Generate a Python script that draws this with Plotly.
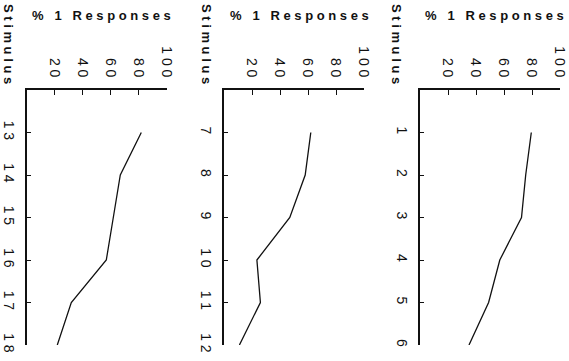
import plotly.graph_objects as go

W, H = 569, 361

# Data
stim_a = [13, 14, 15, 16, 17, 18]
resp_a = [82, 67, 62, 57, 32, 22]
stim_b = [7, 8, 9, 10, 11, 12]
resp_b = [62, 58, 47, 23.5, 26, 11]
stim_c = [1, 2, 3, 4, 5, 6]
resp_c = [79.5, 75.5, 72.5, 57, 49, 35]

pct_ticks = [20, 40, 60, 80, 100]
pct_labels = ["2 0", "4 0", "6 0", "8 0", "1 0 0"]

panels = [
    (stim_a, resp_a, [12, 18], 26.5, 8, 30),
    (stim_b, resp_b, [6, 12], 224, 206, 228),
    (stim_c, resp_c, [0, 6], 420, 396, 423),
]

def px(x):
    return x / W

def py(y):
    return 1 - y / H

FONT = "Liberation Sans, Arial, sans-serif"
INK = "#111111"

fig = go.Figure()
annotations = []
top, bottom = 90, 345
for i, (st, rs, rng, x0, sx, tx) in enumerate(panels):
    n = "" if i == 0 else str(i + 1)
    fig.add_trace(go.Scatter(
        x=rs, y=st, mode="lines",
        line=dict(color=INK, width=1.3),
        xaxis="x" + n, yaxis="y" + n, showlegend=False, hoverinfo="skip",
    ))
    xa = dict(
        domain=[px(x0), px(x0 + 140)], range=[0, 100], side="top",
        anchor="y" + n, showline=True, linecolor=INK, linewidth=1.5,
        ticks="inside", ticklen=5, tickwidth=1.3, tickcolor=INK,
        tickvals=pct_ticks, ticktext=pct_labels, tickangle=90,
        ticklabelstandoff=6, automargin=False,
        tickfont=dict(family=FONT, size=14, color=INK),
        showgrid=False, zeroline=False, fixedrange=True,
    )
    ticks = list(range(rng[0] + 1, rng[1] + 1))
    ya = dict(
        domain=[py(bottom), py(top)], range=[rng[1], rng[0]],
        anchor="x" + n, showline=True, linecolor=INK, linewidth=2,
        ticks="inside", ticklen=4, tickwidth=1.3, tickcolor=INK,
        tickvals=ticks, ticktext=[" ".join(str(t)) for t in ticks],
        tickangle=90, ticklabelstandoff=4, automargin=False,
        tickfont=dict(family=FONT, size=14, color=INK),
        showgrid=False, zeroline=False, fixedrange=True,
    )
    fig.update_layout(**{"xaxis" + n: xa, "yaxis" + n: ya})
    annotations.append(dict(
        text="<b>S t i m u l u s</b>", x=px(sx), y=py(44), xref="paper", yref="paper",
        xanchor="center", yanchor="middle", textangle=90, showarrow=False,
        font=dict(family=FONT, size=13, color=INK),
    ))
    annotations.append(dict(
        text="<b>%   1   R e s p o n s e s</b>", x=px(tx), y=py(15), xref="paper", yref="paper",
        xanchor="left", yanchor="middle", showarrow=False,
        font=dict(family=FONT, size=13, color=INK),
    ))

fig.update_layout(
    width=W, height=H, margin=dict(l=0, r=0, t=0, b=0, autoexpand=False),
    paper_bgcolor="white", plot_bgcolor="white",
    annotations=annotations,
)

fig.write_html("out.html", config={"displayModeBar": False},
               post_script="document.body.style.margin='0px';")
